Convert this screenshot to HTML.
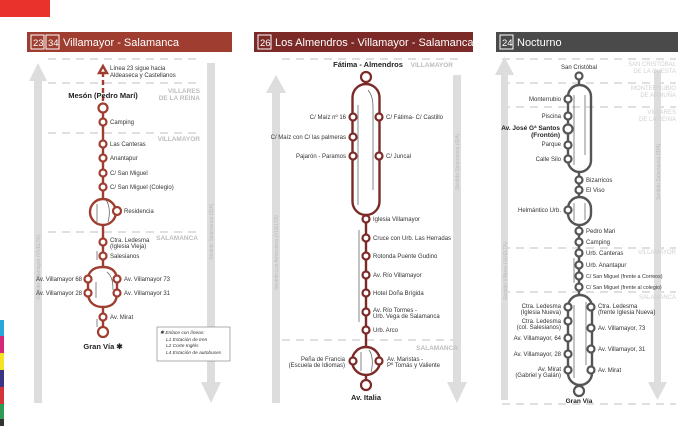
<!DOCTYPE html>
<html><head><meta charset="utf-8"><style>
html,body{margin:0;padding:0;background:#fff;}
svg{display:block;font-family:"Liberation Sans",sans-serif;}
.t{font-size:6px;fill:#333;}
.b{font-size:7.5px;font-weight:bold;fill:#222;}
.g{font-size:6.5px;font-weight:bold;fill:#bdbdbd;}
.g2{font-size:6px;fill:#d0d0d0;}
.v{font-size:5px;fill:#bbb;}
.h{font-size:11px;fill:#fff;}
</style></head><body>
<svg width="696" height="426" viewBox="0 0 696 426" xmlns="http://www.w3.org/2000/svg">
<rect x="0" y="0" width="50" height="17" fill="#e8322b"/>
<rect x="0" y="320" width="4" height="16" fill="#2aa6d9"/>
<rect x="0" y="336" width="4" height="17" fill="#d6287a"/>
<rect x="0" y="353" width="4" height="17" fill="#f3e421"/>
<rect x="0" y="370" width="4" height="17" fill="#3a3487"/>
<rect x="0" y="387" width="4" height="17" fill="#d3343a"/>
<rect x="0" y="404" width="4" height="15" fill="#2f9a55"/>
<rect x="0" y="419" width="4" height="7" fill="#333"/>

<!-- PANEL 1 -->
<rect x="27" y="32" width="205" height="20" fill="#9e3d30"/>
<rect x="31" y="35" width="13" height="14" fill="none" stroke="#fff" stroke-width="1"/>
<rect x="46" y="35" width="13" height="14" fill="none" stroke="#fff" stroke-width="1"/>
<text x="33" y="46" class="h" style="font-size:9.5px">23</text>
<text x="48" y="46" class="h" style="font-size:9.5px">34</text>
<text x="63" y="46" class="h">Villamayor - Salamanca</text>
<g stroke="#ccc" stroke-width="1.3" stroke-dasharray="8,6">
<line x1="48" y1="59" x2="202" y2="59"/><line x1="48" y1="83" x2="202" y2="83"/>
<line x1="48" y1="133" x2="202" y2="133"/><line x1="48" y1="232" x2="202" y2="232"/>
</g>
<rect x="34" y="80" width="8" height="323" fill="#ddd"/><polygon points="38,63 29,81 47,81" fill="#ddd"/>
<rect x="207" y="63" width="8" height="320" fill="#ddd"/><polygon points="201,382 221,382 211,403" fill="#ddd"/>
<text class="v" transform="translate(40,300) rotate(-90)">Sentido Villamayor (VUELTA)</text>
<text class="v" transform="translate(213,260) rotate(-90)">Sentido Salamanca (IDA)</text>
<text x="200" y="93" class="g" text-anchor="end">VILLARES</text>
<text x="200" y="100" class="g" text-anchor="end">DE LA REINA</text>
<text x="200" y="141" class="g" text-anchor="end">VILLAMAYOR</text>
<text x="198" y="240" class="g" text-anchor="end">SALAMANCA</text>
<g stroke="#9e3d30" fill="none" stroke-width="2.4">
<line x1="103" y1="72" x2="103" y2="102" stroke-dasharray="5,3"/>
<polygon points="103,66 99,73 107,73" fill="#fff"/>
<line x1="103" y1="108" x2="103" y2="199"/>
<circle cx="103" cy="212" r="13"/>
<line x1="103" y1="225" x2="103" y2="267"/>
<path d="M103,267 C90,267 88,275 88,280 L88,293 C88,300 92,307 103,307 C114,307 117,300 117,293 L117,280 C117,274 114,267 103,267Z"/>
<line x1="103" y1="307" x2="103" y2="332"/>
</g>
<g stroke="#555" stroke-width="0.7" fill="none">
<line x1="97" y1="222" x2="97" y2="204"/><path d="M106,200 C110,205 110,215 108,222"/>
<line x1="96" y1="298" x2="96" y2="282"/><path d="M107,272 C112,276 113,282 113,290"/>
<line x1="97" y1="251" x2="97" y2="260"/><line x1="97" y1="319" x2="97" y2="327"/>
</g>
<g fill="#fff" stroke="#9e3d30" stroke-width="2.2">
<circle cx="103" cy="108" r="4.5"/><circle cx="103" cy="122" r="3.5"/><circle cx="103" cy="144" r="3.5"/>
<circle cx="103" cy="158" r="3.5"/><circle cx="103" cy="173" r="3.5"/><circle cx="103" cy="187" r="3.5"/>
<circle cx="117" cy="211" r="4"/><circle cx="103" cy="242" r="3.5"/><circle cx="103" cy="256" r="3.5"/>
<circle cx="88" cy="279" r="3.5"/><circle cx="88" cy="293" r="3.5"/><circle cx="117" cy="279" r="3.5"/><circle cx="117" cy="293" r="3.5"/>
<circle cx="103" cy="317" r="3.5"/><circle cx="103" cy="332" r="5"/>
</g>
<text x="110" y="70" class="t">Línea 23 sigue hacia</text><text x="110" y="77" class="t">Aldeaseca y Castellanos</text>
<text x="103" y="98" class="b" text-anchor="middle">Mesón (Pedro Marí)</text>
<text x="110" y="124" class="t">Camping</text><text x="110" y="146" class="t">Las Canteras</text>
<text x="110" y="160" class="t">Anantapur</text><text x="110" y="175" class="t">C/ San Miguel</text>
<text x="110" y="189" class="t">C/ San Miguel (Colegio)</text><text x="124" y="213" class="t">Residencia</text>
<text x="110" y="242" class="t">Ctra. Ledesma</text><text x="110" y="248" class="t">(Iglesia Vieja)</text>
<text x="110" y="258" class="t">Salesianos</text>
<text x="82" y="281" class="t" text-anchor="end">Av. Villamayor 68</text><text x="82" y="295" class="t" text-anchor="end">Av. Villamayor 28</text>
<text x="124" y="281" class="t">Av. Villamayor 73</text><text x="124" y="295" class="t">Av. Villamayor 31</text>
<text x="110" y="319" class="t">Av. Mirat</text>
<text x="103" y="349" class="b" text-anchor="middle">Gran Vía ✱</text>
<rect x="157" y="327" width="73" height="34" fill="#fff" stroke="#777" stroke-width="0.6"/>
<g style="font-size:4.8px;font-style:italic;fill:#333">
<text x="160" y="334">✱ Enlace con líneas:</text><text x="166" y="341">L1 Estación de tren</text>
<text x="166" y="347">L2 Corte Inglés</text><text x="166" y="354">L4 Estación de autobuses</text></g>

<!-- PANEL 2 -->
<rect x="254" y="32" width="219" height="20" fill="#7b2a27"/>
<rect x="258" y="35" width="13" height="14" fill="none" stroke="#fff" stroke-width="1"/>
<text x="260" y="46" class="h" style="font-size:9.5px">26</text>
<text x="275" y="46" class="h">Los Almendros - Villamayor - Salamanca</text>
<g stroke="#ccc" stroke-width="1.3" stroke-dasharray="8,6">
<line x1="282" y1="59" x2="458" y2="59"/><line x1="282" y1="340" x2="458" y2="340"/></g>
<rect x="272" y="92" width="8" height="311" fill="#ddd"/><polygon points="276,75 266,93 286,93" fill="#ddd"/>
<rect x="453" y="75" width="8" height="308" fill="#ddd"/><polygon points="447,382 467,382 457,403" fill="#ddd"/>
<text class="v" transform="translate(278,290) rotate(-90)">Sentido Los Almendros (VUELTA)</text>
<text class="v" transform="translate(459,190) rotate(-90)">Sentido Salamanca (IDA)</text>
<text x="368" y="67" class="b" text-anchor="middle">Fátima - Almendros</text>
<text x="453" y="67" class="g" text-anchor="end">VILLAMAYOR</text>
<text x="458" y="350" class="g" text-anchor="end">SALAMANCA</text>
<g stroke="#7b2a27" fill="none" stroke-width="2.4">
<line x1="366" y1="77" x2="366" y2="84"/>
<rect x="352.5" y="84" width="27" height="131" rx="13.5"/>
<line x1="366" y1="215" x2="366" y2="347"/>
<circle cx="366" cy="361" r="14"/>
<line x1="366" y1="375" x2="366" y2="385"/>
</g>
<g stroke="#555" stroke-width="0.7" fill="none">
<line x1="358" y1="205" x2="358" y2="105"/><path d="M368,90 C372,95 373,100 373,108 L373,190"/>
<line x1="359" y1="230" x2="359" y2="322"/>
<line x1="361" y1="371" x2="361" y2="352"/><path d="M369,350 C373,355 373,365 371,372"/>
</g>
<g fill="#fff" stroke="#7b2a27" stroke-width="2.2">
<circle cx="366" cy="77" r="5"/>
<circle cx="353" cy="117" r="3.5"/><circle cx="353" cy="137" r="3.5"/><circle cx="353" cy="156" r="3.5"/>
<circle cx="379" cy="117" r="3.5"/><circle cx="379" cy="156" r="3.5"/>
<circle cx="366" cy="219" r="3.5"/><circle cx="366" cy="238" r="3.5"/><circle cx="366" cy="256" r="3.5"/>
<circle cx="366" cy="275" r="3.5"/><circle cx="366" cy="293" r="3.5"/><circle cx="366" cy="312" r="3.5"/>
<circle cx="366" cy="330" r="3.5"/><circle cx="353" cy="361" r="3.5"/><circle cx="379" cy="361" r="3.5"/>
<circle cx="366" cy="385" r="5"/>
</g>
<text x="346" y="119" class="t" text-anchor="end">C/ Maíz nº 16</text>
<text x="346" y="139" class="t" text-anchor="end">C/ Maíz con C/ las palmeras</text>
<text x="346" y="158" class="t" text-anchor="end">Pajarón - Paramos</text>
<text x="386" y="119" class="t">C/ Fátima- C/ Castillo</text><text x="386" y="158" class="t">C/ Juncal</text>
<text x="373" y="221" class="t">Iglesia Villamayor</text><text x="373" y="240" class="t">Cruce con Urb. Las Herradas</text>
<text x="373" y="258" class="t">Rotonda Puente Gudino</text><text x="373" y="277" class="t">Av. Río Villamayor</text>
<text x="373" y="295" class="t">Hotel Doña Brígida</text>
<text x="373" y="312" class="t">Av. Río Tormes -</text><text x="373" y="318" class="t">Urb. Vega de Salamanca</text>
<text x="373" y="332" class="t">Urb. Arco</text>
<text x="345" y="361" class="t" text-anchor="end">Peña de Francia</text><text x="345" y="367" class="t" text-anchor="end">(Escuela de Idiomas)</text>
<text x="387" y="361" class="t">Av. Maristas -</text><text x="387" y="367" class="t">Pº Tomás y Valiente</text>
<text x="366" y="400" class="b" text-anchor="middle">Av. Italia</text>

<!-- PANEL 3 -->
<rect x="496" y="32" width="182" height="20" fill="#4a4a4a"/>
<rect x="500" y="35" width="13" height="14" fill="none" stroke="#fff" stroke-width="1"/>
<text x="502" y="46" class="h" style="font-size:9.5px">24</text>
<text x="517" y="46" class="h">Nocturno</text>
<g stroke="#ccc" stroke-width="1.3" stroke-dasharray="8,6">
<line x1="502" y1="59" x2="676" y2="59"/><line x1="502" y1="83" x2="676" y2="83"/>
<line x1="502" y1="107" x2="676" y2="107"/><line x1="502" y1="248" x2="676" y2="248"/>
<line x1="502" y1="292" x2="676" y2="292"/><line x1="502" y1="404" x2="676" y2="404"/></g>
<rect x="501" y="74" width="7" height="326" fill="#ddd"/><polygon points="504.5,57 495,75 514,75" fill="#ddd"/>
<rect x="654" y="70" width="7" height="312" fill="#ddd"/><polygon points="648,382 667,382 657.5,400" fill="#ddd"/>
<text class="v" transform="translate(507,300) rotate(-90)">Sentido Villares (VUELTA)</text>
<text class="v" transform="translate(660,200) rotate(-90)">Sentido Salamanca (IDA)</text>
<text x="676" y="66" class="g2" text-anchor="end">SAN CRISTÓBAL</text><text x="676" y="73" class="g2" text-anchor="end">DE LA CUESTA</text>
<text x="676" y="90" class="g2" text-anchor="end">MONTERRUBIO</text><text x="676" y="97" class="g2" text-anchor="end">DE ARMUÑA</text>
<text x="676" y="114" class="g2" text-anchor="end">VILLARES</text><text x="676" y="121" class="g2" text-anchor="end">DE LA REINA</text>
<text x="676" y="254" class="g2" text-anchor="end">VILLAMAYOR</text><text x="676" y="299" class="g2" text-anchor="end">SALAMANCA</text>
<g stroke="#555" fill="none" stroke-width="2.4">
<line x1="579" y1="76" x2="579" y2="85"/>
<rect x="568" y="85" width="23" height="87" rx="11.5"/>
<line x1="579" y1="172" x2="579" y2="197"/>
<rect x="568" y="197" width="23" height="28" rx="11.5"/>
<line x1="579" y1="225" x2="579" y2="295"/>
<rect x="568" y="295" width="24" height="90" rx="12"/>
<line x1="579" y1="385" x2="579" y2="391"/>
</g>
<g stroke="#555" stroke-width="0.7" fill="none">
<line x1="574" y1="165" x2="574" y2="95"/><line x1="585" y1="95" x2="585" y2="155"/>
<line x1="574" y1="221" x2="574" y2="203"/><line x1="585" y1="203" x2="585" y2="220"/>
<line x1="574" y1="258" x2="574" y2="283"/>
<line x1="574" y1="378" x2="574" y2="305"/><line x1="586" y1="302" x2="586" y2="365"/>
</g>
<g fill="#fff" stroke="#555" stroke-width="2.2">
<circle cx="579" cy="76" r="3.5"/>
<circle cx="568" cy="99" r="3.5"/><circle cx="568" cy="116" r="3.5"/><circle cx="568" cy="129" r="4.5"/>
<circle cx="568" cy="145" r="3.5"/><circle cx="568" cy="159" r="3.5"/>
<circle cx="579" cy="180" r="3.5"/><circle cx="579" cy="190" r="3.5"/><circle cx="568" cy="210" r="3.5"/>
<circle cx="579" cy="231" r="3.5"/><circle cx="579" cy="242" r="3.5"/><circle cx="579" cy="253" r="3.5"/>
<circle cx="579" cy="265" r="3.5"/><circle cx="579" cy="276" r="3.5"/><circle cx="579" cy="287" r="3.5"/>
<circle cx="568" cy="307" r="3.5"/><circle cx="568" cy="321" r="3.5"/><circle cx="568" cy="338" r="3.5"/>
<circle cx="568" cy="354" r="3.5"/><circle cx="568" cy="370" r="3.5"/>
<circle cx="591" cy="307" r="3.5"/><circle cx="591" cy="328" r="3.5"/><circle cx="591" cy="349" r="3.5"/><circle cx="591" cy="370" r="3.5"/>
<circle cx="579" cy="391" r="5"/>
</g>
<text x="579" y="69" class="t" text-anchor="middle">San Cristóbal</text>
<text x="561" y="101" class="t" text-anchor="end">Monterrubio</text><text x="561" y="118" class="t" text-anchor="end">Piscina</text>
<text x="560" y="130" class="b" text-anchor="end" style="font-size:6.5px">Av. José Gª Santos</text>
<text x="560" y="137" class="b" text-anchor="end" style="font-size:6.5px">(Frontón)</text>
<text x="561" y="146" class="t" text-anchor="end">Parque</text><text x="561" y="161" class="t" text-anchor="end">Calle Silo</text>
<text x="586" y="182" class="t">Bizarricos</text><text x="586" y="192" class="t">El Viso</text>
<text x="561" y="212" class="t" text-anchor="end">Helmántico Urb.</text>
<text x="586" y="233" class="t">Pedro Mari</text><text x="586" y="244" class="t">Camping</text>
<text x="586" y="255" class="t">Urb. Canteras</text><text x="586" y="267" class="t">Urb. Anantapur</text>
<text x="586" y="278" class="t" style="font-size:5.3px">C/ San Miguel (frente a Correos)</text>
<text x="586" y="289" class="t" style="font-size:5.3px">C/ San Miguel (frente al colegio)</text>
<text x="561" y="308" class="t" text-anchor="end">Ctra. Ledesma</text><text x="561" y="314" class="t" text-anchor="end">(Iglesia Nueva)</text>
<text x="561" y="323" class="t" text-anchor="end">Ctra. Ledesma</text><text x="561" y="329" class="t" text-anchor="end">(col. Salesianos)</text>
<text x="561" y="340" class="t" text-anchor="end">Av. Villamayor, 64</text><text x="561" y="356" class="t" text-anchor="end">Av. Villamayor, 28</text>
<text x="561" y="371" class="t" text-anchor="end">Av. Mirat</text><text x="561" y="377" class="t" text-anchor="end">(Gabriel y Galán)</text>
<text x="598" y="308" class="t">Ctra. Ledesma</text><text x="598" y="314" class="t">(frente Iglesia Nueva)</text>
<text x="598" y="330" class="t">Av. Villamayor, 73</text><text x="598" y="351" class="t">Av. Villamayor, 31</text>
<text x="598" y="372" class="t">Av. Mirat</text>
<text x="579" y="403" class="b" text-anchor="middle" style="font-size:6.5px">Gran Vía</text>
</svg>
</body></html>
